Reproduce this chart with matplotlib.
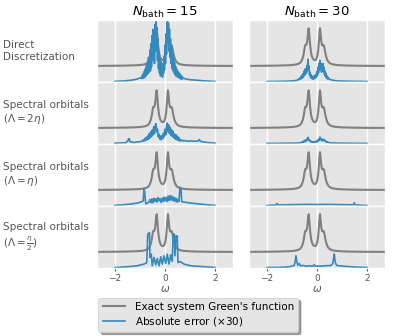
#!/usr/bin/env python3

"""
Exact system Green's function vs. absolute error of bath fits
for two bath sizes and four discretization schemes.
"""

import matplotlib
matplotlib.use("Agg")
import matplotlib.pyplot as plt


# =============================================================
# DATA
# =============================================================

n_bath = [15, 30]

row_labels = [
    "Direct\nDiscretization",
    "Spectral orbitals\n($\\Lambda = 2\\eta$)",
    "Spectral orbitals\n($\\Lambda = \\eta$)",
    "Spectral orbitals\n($\\Lambda = \\frac{\\eta}{2}$)",
]

# exact spectral function (shifted upwards, arbitrary units)
omega_exact = [-2.75, -2.0, -1.5, -1.2, -1.0, -0.85, -0.75, -0.68, -0.62, -0.57,
               -0.53, -0.50, -0.47, -0.44, -0.41, -0.38, -0.35, -0.33, -0.31,
               -0.28, -0.24, -0.20, -0.15, -0.10, -0.05, -0.02, 0.02, 0.05,
               0.08, 0.10, 0.12, 0.14, 0.17, 0.20, 0.23, 0.26, 0.29, 0.32,
               0.36, 0.40, 0.45, 0.52, 0.60, 0.72, 0.90, 1.2, 1.6, 2.0, 2.75]
g_exact = [0.262, 0.265, 0.268, 0.272, 0.276, 0.284, 0.295, 0.31, 0.34, 0.39,
           0.46, 0.54, 0.60, 0.60, 0.62, 0.70, 0.84, 0.87, 0.78,
           0.62, 0.48, 0.41, 0.37, 0.355, 0.36, 0.38, 0.44, 0.53,
           0.68, 0.80, 0.87, 0.80, 0.66, 0.60, 0.59, 0.60, 0.57, 0.50,
           0.42, 0.37, 0.33, 0.305, 0.29, 0.28, 0.273, 0.268, 0.265, 0.263, 0.262]

# absolute error (x30), one pair of lists per panel
w_direct_15 = [-2.0, -1.6, -1.3, -1.1, -1.0, -0.95,
               -0.90, -0.88, -0.86, -0.84, -0.82, -0.80, -0.78, -0.76, -0.74, -0.72,
               -0.70, -0.68, -0.66, -0.64, -0.62, -0.60, -0.58, -0.56, -0.54, -0.52,
               -0.50, -0.48, -0.46, -0.44, -0.42, -0.40, -0.38, -0.36, -0.34, -0.32,
               -0.30, -0.28, -0.26, -0.24, -0.22, -0.20, -0.18, -0.16, -0.14, -0.12,
               -0.10, -0.08, -0.06, -0.04, -0.02, 0.00, 0.02, 0.04, 0.06, 0.08,
               0.10, 0.12, 0.14, 0.16, 0.18, 0.20, 0.22, 0.24, 0.26, 0.28,
               0.30, 0.32, 0.34, 0.36, 0.38, 0.40, 0.42, 0.44, 0.46, 0.48,
               0.50, 0.52, 0.54, 0.56, 0.58, 0.60, 0.62, 0.64, 0.66, 0.68, 0.70,
               0.75, 0.85, 1.0, 1.3, 1.6, 2.0]
e_direct_15 = [0.012, 0.02, 0.035, 0.05, 0.07, 0.06,
               0.12, 0.06, 0.14, 0.07, 0.18, 0.08, 0.22, 0.10, 0.28, 0.12,
               0.33, 0.14, 0.40, 0.16, 0.30, 0.52, 0.18, 0.62, 0.25, 0.75,
               0.35, 0.85, 0.45, 0.70, 0.30, 0.93, 0.50, 1.02, 0.60, 0.88,
               0.35, 0.70, 0.22, 0.50, 0.15, 0.38, 0.10, 0.33, 0.12, 0.28,
               0.08, 0.30, 0.14, 0.42, 0.20, 0.60, 0.30, 0.78, 0.45, 0.92,
               1.03, 0.65, 0.95, 0.50, 0.85, 0.40, 0.70, 0.30, 0.58, 0.22,
               0.48, 0.18, 0.40, 0.15, 0.32, 0.12, 0.26, 0.10, 0.22, 0.09,
               0.18, 0.08, 0.16, 0.07, 0.14, 0.06, 0.12, 0.05, 0.10, 0.05, 0.08,
               0.06, 0.05, 0.04, 0.03, 0.02, 0.011]

w_direct_30 = [-2.0, -1.2, -1.0, -0.80, -0.74, -0.70, -0.68, -0.66, -0.64, -0.62,
               -0.60, -0.58, -0.56, -0.54, -0.52, -0.50, -0.48, -0.46, -0.44, -0.42,
               -0.40, -0.38, -0.36, -0.34, -0.32, -0.30, -0.28, -0.26, -0.24, -0.22,
               -0.20, -0.18, -0.16, -0.14, -0.12, -0.10, -0.08, -0.06, -0.04, -0.02,
               0.00, 0.02, 0.04, 0.06, 0.08, 0.10, 0.12, 0.14, 0.16, 0.18,
               0.20, 0.22, 0.24, 0.26, 0.28, 0.30, 0.32, 0.34, 0.36, 0.38,
               0.40, 0.42, 0.44, 0.48, 0.55, 0.65, 0.8, 1.2, 2.0]
e_direct_30 = [0.01, 0.015, 0.02, 0.03, 0.05, 0.04, 0.07, 0.05, 0.09, 0.06,
               0.11, 0.07, 0.14, 0.09, 0.18, 0.11, 0.21, 0.13, 0.22, 0.15,
               0.27, 0.18, 0.37, 0.20, 0.26, 0.12, 0.16, 0.08, 0.12, 0.06,
               0.10, 0.05, 0.09, 0.05, 0.10, 0.06, 0.11, 0.07, 0.13, 0.08,
               0.17, 0.11, 0.24, 0.15, 0.30, 0.20, 0.35, 0.22, 0.30, 0.16,
               0.27, 0.18, 0.30, 0.17, 0.24, 0.12, 0.18, 0.09, 0.14, 0.07,
               0.10, 0.05, 0.08, 0.05, 0.04, 0.03, 0.02, 0.015, 0.01]

w_so2_15 = [-2.0, -1.57, -1.49, -1.46, -1.43, -1.40, -1.24, -1.1, -1.0, -0.95,
            -0.90, -0.87, -0.84, -0.81, -0.78, -0.75, -0.72, -0.69, -0.66, -0.63,
            -0.60, -0.57, -0.54, -0.51, -0.48, -0.45, -0.42, -0.39, -0.36, -0.33,
            -0.30, -0.27, -0.24, -0.21, -0.18, -0.15, -0.12, -0.09, -0.06, -0.03,
            0.00, 0.03, 0.06, 0.09, 0.12, 0.15, 0.18, 0.21, 0.24, 0.27,
            0.30, 0.33, 0.36, 0.39, 0.42, 0.45, 0.48, 0.51, 0.54, 0.57,
            0.60, 0.65, 0.70, 0.75, 0.85, 1.0, 1.16, 1.32, 1.37, 1.43, 1.69, 2.0]
e_so2_15 = [0.015, 0.022, 0.05, 0.08, 0.09, 0.04, 0.025, 0.035, 0.04, 0.045,
            0.05, 0.07, 0.05, 0.09, 0.06, 0.11, 0.07, 0.13, 0.08, 0.17,
            0.10, 0.20, 0.12, 0.23, 0.15, 0.28, 0.17, 0.30, 0.33, 0.20,
            0.24, 0.12, 0.16, 0.08, 0.13, 0.07, 0.14, 0.09, 0.18, 0.12,
            0.24, 0.15, 0.29, 0.34, 0.20, 0.31, 0.17, 0.27, 0.14, 0.23,
            0.12, 0.20, 0.10, 0.16, 0.08, 0.15, 0.07, 0.12, 0.06, 0.10,
            0.05, 0.07, 0.05, 0.06, 0.05, 0.05, 0.048, 0.048, 0.075, 0.043, 0.027, 0.015]

w_so2_30 = [-2.0, -1.0, -0.70, -0.64, -0.60, -0.57, -0.54, -0.51, -0.48, -0.45,
            -0.42, -0.39, -0.36, -0.33, -0.30, -0.27, -0.24, -0.21, -0.18, -0.15,
            -0.12, -0.09, -0.06, -0.03, 0.00, 0.03, 0.06, 0.09, 0.12, 0.15,
            0.18, 0.21, 0.24, 0.27, 0.30, 0.33, 0.36, 0.39, 0.42, 0.48,
            0.55, 1.0, 2.0]
e_so2_30 = [0.012, 0.015, 0.02, 0.03, 0.025, 0.04, 0.03, 0.06, 0.04, 0.07,
            0.05, 0.09, 0.11, 0.06, 0.07, 0.04, 0.05, 0.03, 0.04, 0.03,
            0.04, 0.03, 0.045, 0.035, 0.055, 0.04, 0.08, 0.06, 0.115, 0.07,
            0.08, 0.05, 0.08, 0.06, 0.07, 0.04, 0.05, 0.03, 0.035, 0.025,
            0.02, 0.015, 0.012]

w_so1_15 = [-2.0, -1.51, -1.11, -0.91, -0.87, -0.84, -0.81, -0.77, -0.71, -0.64,
            -0.60, -0.56, -0.52, -0.48, -0.44, -0.40, -0.36, -0.32, -0.28, -0.24,
            -0.20, -0.16, -0.12, -0.08, -0.04, 0.0, 0.04, 0.08, 0.12, 0.16,
            0.20, 0.24, 0.28, 0.32, 0.36, 0.40, 0.44, 0.48, 0.52, 0.56,
            0.60, 0.64, 0.67, 0.76, 1.16, 1.56, 2.0]
e_so1_15 = [0.012, 0.027, 0.048, 0.075, 0.086, 0.28, 0.226, 0.038, 0.048, 0.065,
            0.108, 0.054, 0.118, 0.054, 0.129, 0.075, 0.118, 0.065, 0.14, 0.086,
            0.118, 0.059, 0.129, 0.075, 0.145, 0.081, 0.14, 0.075, 0.161, 0.09,
            0.172, 0.097, 0.161, 0.086, 0.145, 0.075, 0.129, 0.065, 0.108, 0.075,
            0.306, 0.28, 0.075, 0.065, 0.043, 0.027, 0.012]

w_so1_30 = [-2.0, -1.7, -1.64, -1.61, -1.57, -1.2, -0.8, -0.4, 0.0, 0.4,
            0.8, 1.2, 1.45, 1.49, 1.53, 1.7, 2.0]
e_so1_30 = [0.01, 0.015, 0.02, 0.043, 0.02, 0.022, 0.025, 0.028, 0.026, 0.028,
            0.025, 0.022, 0.02, 0.054, 0.02, 0.015, 0.01]

w_soh_15 = [-2.0, -1.51, -1.11, -0.84, -0.73, -0.69, -0.62, -0.60, -0.55, -0.51,
            -0.44, -0.37, -0.31, -0.24, -0.17, -0.11, -0.04, 0.03, 0.09, 0.16,
            0.23, 0.29, 0.33, 0.37, 0.40, 0.44, 0.49, 0.52, 0.60, 0.76, 1.03,
            1.56, 2.0]
e_soh_15 = [0.008, 0.022, 0.038, 0.065, 0.086, 0.55, 0.575, 0.172, 0.226, 0.038,
            0.172, 0.054, 0.155, 0.038, 0.183, 0.065, 0.199, 0.075, 0.226, 0.065,
            0.215, 0.108, 0.55, 0.55, 0.199, 0.52, 0.52, 0.09, 0.108, 0.065, 0.038,
            0.022, 0.01]

w_soh_30 = [-2.0, -1.51, -1.11, -0.91, -0.87, -0.84, -0.81, -0.77, -0.71, -0.67,
            -0.57, -0.44, -0.31, -0.17, -0.11, -0.07, 0.09, 0.36, 0.56, 0.63,
            0.67, 0.69, 0.73, 0.79, 1.03, 1.56, 2.0]
e_soh_30 = [0.01, 0.011, 0.022, 0.043, 0.118, 0.199, 0.118, 0.048, 0.075, 0.038,
            0.043, 0.032, 0.038, 0.032, 0.054, 0.032, 0.032, 0.038, 0.043, 0.075,
            0.172, 0.226, 0.09, 0.043, 0.032, 0.016, 0.01]

errors = [
    [(w_direct_15, e_direct_15), (w_direct_30, e_direct_30)],
    [(w_so2_15, e_so2_15), (w_so2_30, e_so2_30)],
    [(w_so1_15, e_so1_15), (w_so1_30, e_so1_30)],
    [(w_soh_15, e_soh_15), (w_soh_30, e_soh_30)],
]


# =============================================================
# PLOTTING
# =============================================================

plt.style.use("ggplot")

fig = plt.figure(figsize=(3.99, 3.36), dpi=100)

col_left = [0.243, 0.624]
col_width = 0.341
row_top = 0.940
row_height = 0.1845

axes = []
for r in range(4):
    row = []
    for c in range(2):
        ax = fig.add_axes([col_left[c], row_top - (r + 1) * row_height,
                           col_width, row_height])
        row.append(ax)
    axes.append(row)

for r in range(4):
    for c in range(2):
        ax = axes[r][c]
        w, e = errors[r][c]

        ax.plot(omega_exact, g_exact, color="gray", lw=1.5,
                label="Exact system Green's function")
        ax.plot(w, e, color="#348ABD", lw=1.2,
                label="Absolute error ($\\times 30$)")

        ax.set_xlim(-2.72, 2.72)
        ax.set_ylim(0, 1)
        ax.set_yticks([])
        ax.set_xticks([-2, 0, 2])
        ax.grid(True, axis="x", color="white", lw=1)

        if r < 3:
            ax.tick_params(axis="x", labelbottom=False, length=0)
        else:
            ax.tick_params(axis="x", labelsize=6.5, length=2.5, pad=1.5)
            ax.set_xlabel("$\\omega$", fontsize=7.5, labelpad=1)

    axes[r][0].text(-0.69, 0.5, row_labels[r], transform=axes[r][0].transAxes,
                    ha="left", va="center", fontsize=7.5, color="#555555")

for c in range(2):
    axes[0][c].set_title("$N_{\\rm bath} = %d$" % n_bath[c],
                         fontsize=9.5, pad=3, color="black")

handles, labels = axes[0][0].get_legend_handles_labels()
fig.legend(handles, labels, loc="upper center", bbox_to_anchor=(0.497, 0.13),
           fontsize=7.5, shadow=True, frameon=True, handlelength=2.2,
           handletextpad=0.9, borderpad=0.4, labelspacing=0.3)

fig.savefig("out.png", dpi=100)
